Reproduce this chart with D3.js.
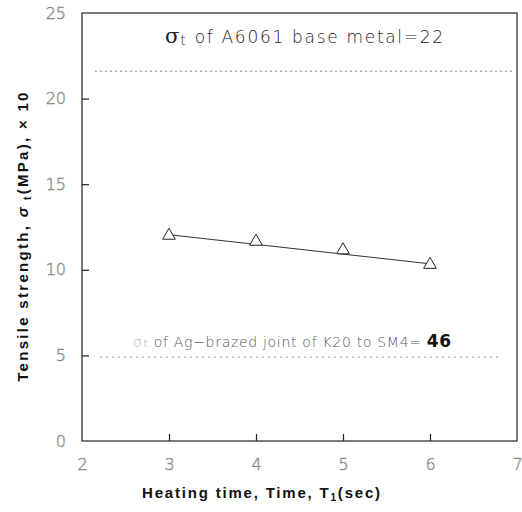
<!DOCTYPE html>
<html><head><meta charset="utf-8">
<script src="https://cdn.jsdelivr.net/npm/d3@7"></script>
<style>body{margin:0;background:#fff}</style>
</head><body>
<svg id="c" width="522" height="512"></svg>
<script>
const times = [3, 4, 5, 6];
const strength = [12.0, 11.65, 11.15, 10.3];
const fitLine = [[3, 12.05], [6, 10.35]];
const xTicks = [2, 3, 4, 5, 6, 7];
const yTicks = [0, 5, 10, 15, 20, 25];
const baseMetal = 21.6;
const brazedJoint = 4.9;

const svg = d3.select("#c");
const L = 82, R = 517, T = 13, B = 441;
const x = d3.scaleLinear().domain([2, 7]).range([L, R]);
const y = d3.scaleLinear().domain([0, 25]).range([B, T]);
const ink = "#222";

// frame
svg.append("rect").attr("x", L).attr("y", T).attr("width", R - L).attr("height", B - T)
  .attr("fill", "none").attr("stroke", ink).attr("stroke-width", 1.2);

// axes (inward ticks)
const xa = svg.append("g").attr("transform", `translate(0,${B})`)
  .call(d3.axisBottom(x).tickValues(xTicks).tickSizeInner(-7).tickSizeOuter(0).tickPadding(24).tickFormat(d3.format("d")));
const ya = svg.append("g").attr("transform", `translate(${L},0)`)
  .call(d3.axisLeft(y).tickValues(yTicks).tickSizeInner(-7).tickSizeOuter(0).tickPadding(16).tickFormat(d3.format("d")));
[xa, ya].forEach(g => {
  g.select(".domain").remove();
  g.selectAll("line").attr("stroke", ink).attr("stroke-width", 1.2);
  g.selectAll("text").attr("font-family", "DejaVu Sans, sans-serif").attr("font-size", 16).attr("font-weight", 300)
    .attr("fill", "#fff").attr("stroke", "#8a8a8a").attr("stroke-width", 0.6);
});
xa.selectAll("text").attr("dy", "0.3em");
xa.selectAll(".tick").filter(d => d === 2 || d === 7).select("line").remove();
ya.selectAll(".tick").filter(d => d === 0 || d === 25).select("line").remove();

// reference lines
svg.append("line").attr("x1", 95).attr("x2", 515).attr("y1", y(baseMetal)).attr("y2", y(baseMetal))
  .attr("stroke", "#888").attr("stroke-width", 1).attr("stroke-dasharray", "2,3");
svg.append("line").attr("x1", 100).attr("x2", 500).attr("y1", y(brazedJoint)).attr("y2", y(brazedJoint))
  .attr("stroke", "#999").attr("stroke-width", 1).attr("stroke-dasharray", "2,4");

// labels on reference lines
const t1 = svg.append("text").attr("x", 165).attr("y", y(baseMetal) - 28)
  .attr("font-family", "DejaVu Sans, sans-serif").attr("font-size", 17).attr("font-weight", 300)
  .attr("letter-spacing", 1.7).attr("fill", "#222");
t1.append("tspan").text("σ").attr("font-size", 21).attr("font-family", "DejaVu Serif, serif").attr("letter-spacing", 0);
t1.append("tspan").text("t").attr("font-size", 14).attr("dx", 1).attr("dy", 2);
t1.append("tspan").text(" of  A6061  base  metal=22").attr("dy", -2);

const t2 = svg.append("text").attr("x", 133).attr("y", y(brazedJoint) - 10)
  .attr("font-family", "DejaVu Sans, sans-serif").attr("font-size", 14).attr("font-weight", 300)
  .attr("letter-spacing", 0.7).attr("fill", "#333");
t2.append("tspan").text("σ").attr("fill", "#bbb");
t2.append("tspan").text("t").attr("font-size", 11).attr("dx", 1).attr("fill", "#aaa");
t2.append("tspan").text(" of  Ag−brazed  joint  of  K20  to  SM4= ").attr("fill", "#555");
t2.append("tspan").text("46").attr("font-weight", "bold").attr("font-size", 17).attr("fill", "#111");

// fit line
svg.append("path").datum(fitLine)
  .attr("d", d3.line().x(d => x(d[0])).y(d => y(d[1])))
  .attr("stroke", "#333").attr("stroke-width", 1).attr("fill", "none");

// data triangles
svg.selectAll(".pt").data(times.map((t, i) => [t, strength[i]])).enter().append("path")
  .attr("transform", d => `translate(${x(d[0])},${y(d[1])})`)
  .attr("d", d3.symbol().type(d3.symbolTriangle).size(70))
  .attr("fill", "#fff").attr("stroke", ink).attr("stroke-width", 1);

// axis titles
svg.append("text").attr("x", 262).attr("y", 498).attr("text-anchor", "middle")
  .attr("font-family", "Liberation Sans, Arial, sans-serif").attr("font-size", 15).attr("font-weight", "bold")
  .attr("letter-spacing", 1.8).attr("fill", "#111")
  .html('Heating  time,  Time,  T<tspan font-size="10" dy="3">1</tspan><tspan dy="-3">(sec)</tspan>');

svg.append("text").attr("transform", "translate(28,236) rotate(-90)").attr("text-anchor", "middle")
  .attr("font-family", "Liberation Sans, Arial, sans-serif").attr("font-size", 15).attr("font-weight", "bold")
  .attr("letter-spacing", 2.3).attr("fill", "#111")
  .html('Tensile  strength,  <tspan font-style="italic">σ</tspan><tspan font-size="10" dy="3"> t</tspan><tspan dy="-3">(MPa),  × 10</tspan>');
</script>
</body></html>
